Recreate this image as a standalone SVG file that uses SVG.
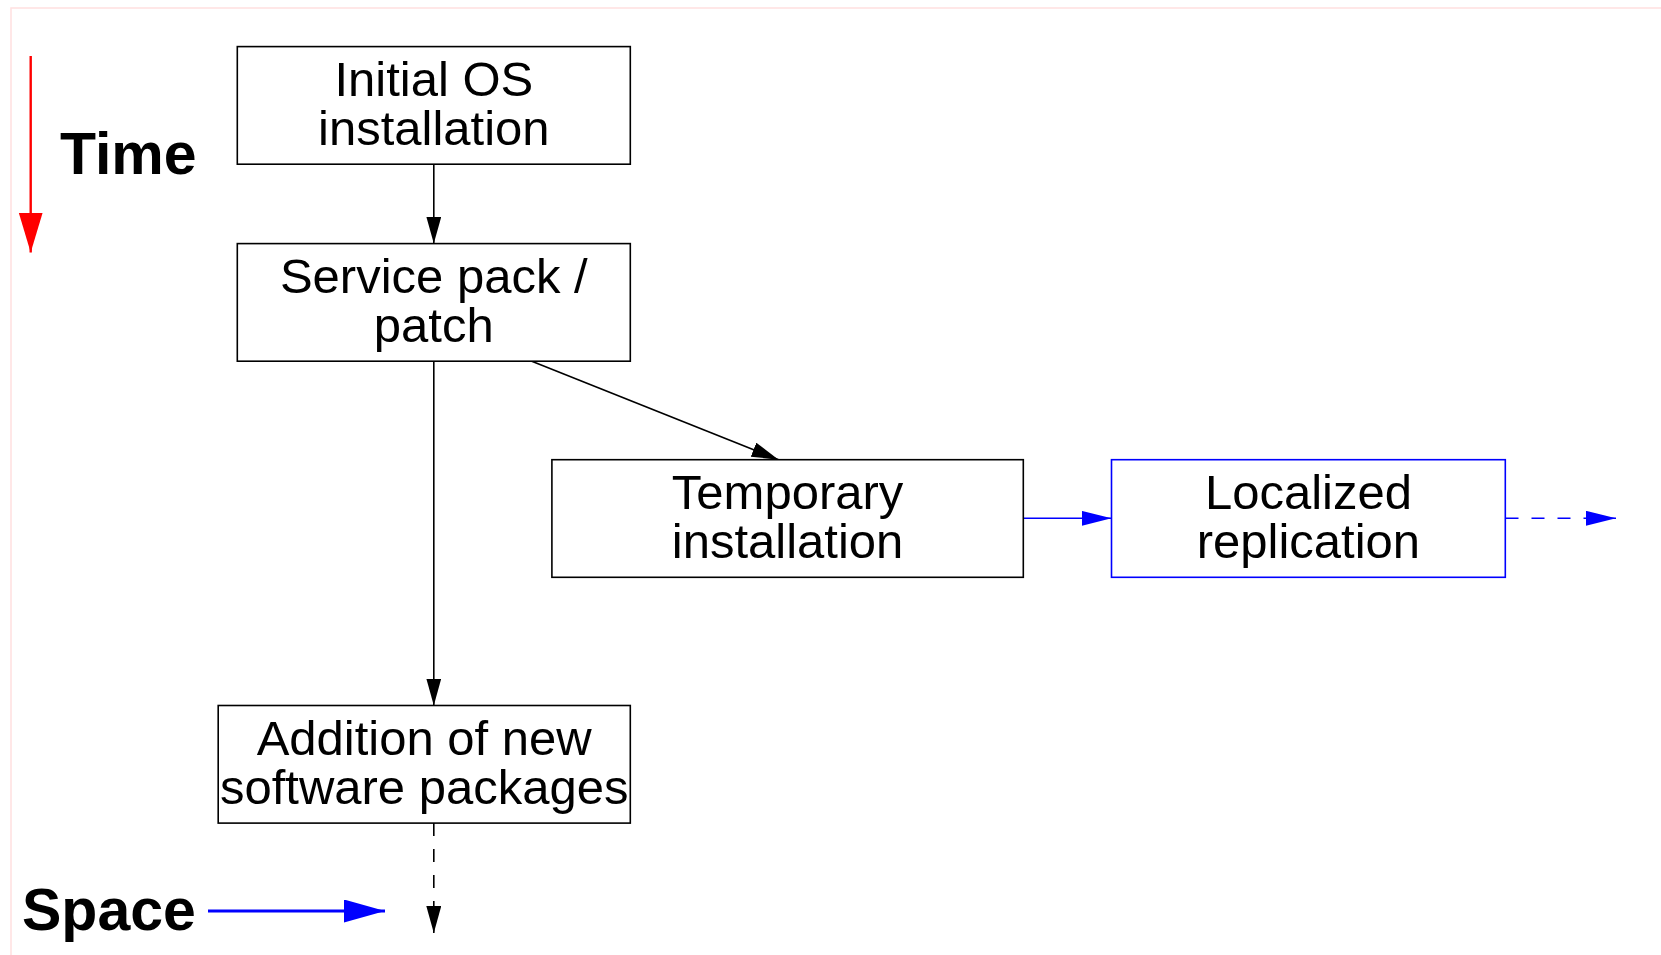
<svg xmlns="http://www.w3.org/2000/svg" width="1661" height="955" viewBox="0 0 1661 955">
  <style>
    .box { fill: #fff; stroke: #000; stroke-width: 1.6; }
    .box-blue { fill: #fff; stroke: #0000ff; stroke-width: 1.6; }
    .label { font-family: "Liberation Sans", Arial, sans-serif; font-size: 49px; fill: #000; text-anchor: middle; }
    .axis { font-family: "Liberation Sans", Arial, sans-serif; font-size: 59px; font-weight: bold; fill: #000; }
    .edge { fill: none; stroke: #000; stroke-width: 1.6; }
    .edge-blue { fill: none; stroke: #0000ff; stroke-width: 1.6; }
    .dashed { stroke-dasharray: 13 13; }
  </style>
  <defs>
    <marker id="arrow-black" markerUnits="userSpaceOnUse" markerWidth="28" markerHeight="16" refX="27" refY="7.5" orient="auto">
      <path d="M0,0 L27,7.5 L0,15 Z" fill="#000"/>
    </marker>
    <marker id="arrow-blue" markerUnits="userSpaceOnUse" markerWidth="31" markerHeight="16" refX="30" refY="7.5" orient="auto">
      <path d="M0,0 L30,7.5 L0,15 Z" fill="#0000ff"/>
    </marker>
    <marker id="arrow-blue-big" markerUnits="userSpaceOnUse" markerWidth="43" markerHeight="25" refX="41" refY="11.5" orient="auto">
      <path d="M0,0 L41,11.5 L0,23 Z" fill="#0000ff"/>
    </marker>
    <marker id="arrow-red" markerUnits="userSpaceOnUse" markerWidth="42" markerHeight="26" refX="40" refY="12" orient="auto">
      <path d="M0,0 L40,12 L0,24 Z" fill="#ff0000"/>
    </marker>
  </defs>

  <rect width="1661" height="955" fill="#fff"/>
  <!-- page frame -->
  <rect x="11" y="8" width="1700" height="1000" fill="none" stroke="#ffe0e0" stroke-width="1.5"/>

  <!-- axis legends -->
  <g id="legend-time">
    <line x1="30.7" y1="56" x2="30.7" y2="252.5" stroke="#ff0000" stroke-width="2.4" marker-end="url(#arrow-red)"/>
    <text class="axis" x="60" y="174">Time</text>
  </g>
  <g id="legend-space">
    <line x1="208" y1="911" x2="385" y2="911" stroke="#0000ff" stroke-width="3.2" marker-end="url(#arrow-blue-big)"/>
    <text class="axis" x="22" y="930">Space</text>
  </g>

  <!-- connectors -->
  <g id="connectors">
    <line class="edge" x1="433.8" y1="164.2" x2="433.8" y2="243.6" marker-end="url(#arrow-black)"/>
    <line class="edge" x1="531.8" y1="361.2" x2="778.6" y2="459.7" marker-end="url(#arrow-black)"/>
    <line class="edge" x1="433.8" y1="361.2" x2="433.8" y2="705.5" marker-end="url(#arrow-black)"/>
    <line class="edge dashed" x1="433.8" y1="823" x2="433.8" y2="933" marker-end="url(#arrow-black)"/>
    <line class="edge-blue" x1="1023.3" y1="518.3" x2="1111.5" y2="518.3" marker-end="url(#arrow-blue)"/>
    <line class="edge-blue dashed" x1="1505.5" y1="518.3" x2="1616" y2="518.3" marker-end="url(#arrow-blue)"/>
  </g>

  <!-- nodes -->
  <g id="node-initial-os">
    <rect class="box" x="237.3" y="46.6" width="393" height="117.6"/>
    <text class="label" x="433.8" y="96">Initial OS<tspan x="433.8" dy="48.5">installation</tspan></text>
  </g>
  <g id="node-service-pack">
    <rect class="box" x="237.3" y="243.6" width="393" height="117.6"/>
    <text class="label" x="433.8" y="293">Service pack /<tspan x="433.8" dy="48.5">patch</tspan></text>
  </g>
  <g id="node-temporary">
    <rect class="box" x="551.9" y="459.7" width="471.4" height="117.6"/>
    <text class="label" x="787.6" y="509">Temporary<tspan x="787.6" dy="48.5">installation</tspan></text>
  </g>
  <g id="node-localized">
    <rect class="box-blue" x="1111.5" y="459.7" width="393.8" height="117.6"/>
    <text class="label" x="1308.4" y="509">Localized<tspan x="1308.4" dy="48.5">replication</tspan></text>
  </g>
  <g id="node-addition">
    <rect class="box" x="218.2" y="705.5" width="412.1" height="117.6"/>
    <text class="label" x="424.2" y="755">Addition of new<tspan x="424.2" dy="48.5">software packages</tspan></text>
  </g>
</svg>
